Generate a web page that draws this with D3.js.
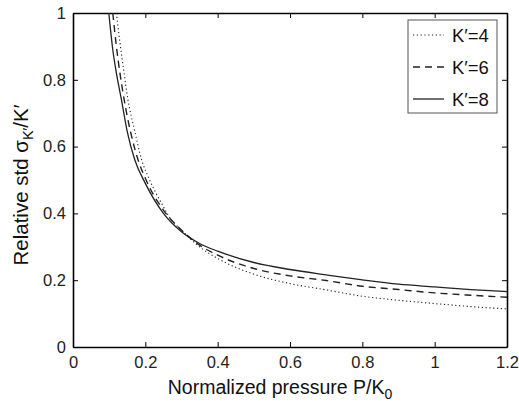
<!DOCTYPE html>
<html>
<head>
<meta charset="utf-8">
<script src="https://cdn.jsdelivr.net/npm/d3@7"></script>
<style>
  body { margin: 0; background: #fff; }
  svg { display: block; font-family: "Liberation Sans", Arial, sans-serif; }
</style>
</head>
<body>
<svg id="chart" width="519" height="403"></svg>
<script>
// P/K0 values and relative std for each K'
const p_k4 = [0.12, 0.13, 0.14, 0.152, 0.17, 0.19, 0.212, 0.25, 0.272, 0.3, 0.35, 0.4, 0.5, 0.6, 0.7, 0.8, 0.9, 1.0, 1.1, 1.2];
const v_k4 = [1.0, 0.91, 0.83, 0.74, 0.65, 0.56, 0.50, 0.42, 0.38, 0.35, 0.30, 0.265, 0.218, 0.19, 0.171, 0.152, 0.140, 0.130, 0.121, 0.114];

const p_k6 = [0.11, 0.12, 0.14, 0.16, 0.18, 0.2, 0.25, 0.3, 0.35, 0.4, 0.5, 0.6, 0.7, 0.8, 0.9, 1.0, 1.1, 1.2];
const v_k6 = [1.0, 0.90, 0.75, 0.64, 0.56, 0.505, 0.41, 0.35, 0.305, 0.275, 0.235, 0.213, 0.199, 0.182, 0.172, 0.162, 0.155, 0.149];

const p_k8 = [0.099, 0.11, 0.12, 0.134, 0.15, 0.171, 0.2, 0.25, 0.3, 0.35, 0.4, 0.5, 0.6, 0.7, 0.8, 0.9, 1.0, 1.1, 1.2];
const v_k8 = [1.0, 0.89, 0.82, 0.74, 0.645, 0.56, 0.49, 0.40, 0.345, 0.31, 0.287, 0.253, 0.232, 0.216, 0.201, 0.188, 0.180, 0.172, 0.166];

const x_ticks = [0, 0.2, 0.4, 0.6, 0.8, 1, 1.2];
const y_ticks = [0, 0.2, 0.4, 0.6, 0.8, 1];
const series_names = ["K\u2032=4", "K\u2032=6", "K\u2032=8"];

function render_chart()
{
    const svg = d3.select("#chart");
    const margin = {left: 73, right: 12, top: 13, bottom: 56};
    const width = 519, height = 403;

    const x = d3.scaleLinear().domain([0, 1.2]).range([margin.left, width - margin.right]);
    const y = d3.scaleLinear().domain([0, 1]).range([height - margin.bottom, margin.top]);

    svg.append("defs").append("clipPath").attr("id", "plot-clip")
      .append("rect")
        .attr("x", x(0)).attr("y", y(1))
        .attr("width", x(1.2) - x(0)).attr("height", y(0) - y(1));

    // axes with inward ticks on all four sides
    const fmt = d => String(d);
    const ax_bottom = svg.append("g").attr("transform", `translate(0,${y(0)})`)
      .call(d3.axisBottom(x).tickValues(x_ticks).tickSizeInner(-5).tickSizeOuter(0).tickPadding(9).tickFormat(fmt));
    const ax_left = svg.append("g").attr("transform", `translate(${x(0)},0)`)
      .call(d3.axisLeft(y).tickValues(y_ticks).tickSizeInner(-5).tickSizeOuter(0).tickPadding(7).tickFormat(fmt));
    const ax_top = svg.append("g").attr("transform", `translate(0,${y(1)})`)
      .call(d3.axisTop(x).tickValues(x_ticks).tickSizeInner(-5).tickSizeOuter(0).tickFormat(""));
    const ax_right = svg.append("g").attr("transform", `translate(${x(1.2)},0)`)
      .call(d3.axisRight(y).tickValues(y_ticks).tickSizeInner(-5).tickSizeOuter(0).tickFormat(""));

    for (const g of [ax_bottom, ax_left, ax_top, ax_right])
    {
        g.select(".domain").attr("stroke", "#000").attr("stroke-width", 1.6);
        g.selectAll(".tick line").attr("stroke", "#000").attr("stroke-width", 1);
        g.selectAll("text").attr("font-size", 16.5).attr("fill", "#222")
          .attr("font-family", "'Liberation Sans', Arial, sans-serif");
    }

    const line = d3.line()
      .x(d => x(d[0]))
      .y(d => y(d[1]))
      .curve(d3.curveMonotoneX);

    const series = [
      {p: p_k4, v: v_k4, dash: "1.2,2.6", width: 1.1},
      {p: p_k6, v: v_k6, dash: "7,5", width: 1.4},
      {p: p_k8, v: v_k8, dash: null, width: 1.3}
    ];

    svg.append("g").attr("clip-path", "url(#plot-clip)")
      .selectAll("path")
      .data(series)
      .join("path")
        .attr("fill", "none")
        .attr("stroke", "#222")
        .attr("stroke-width", d => d.width)
        .attr("stroke-dasharray", d => d.dash)
        .attr("d", d => line(d.p.map((p, i) => [p, d.v[i]])));

    // legend
    const legend = svg.append("g");
    legend.append("rect")
      .attr("x", 408).attr("y", 20).attr("width", 89).attr("height", 93)
      .attr("fill", "#fff").attr("stroke", "#555").attr("stroke-width", 1);
    series_names.forEach((name, i) => {
        const ly = 35 + i * 32;
        legend.append("line")
          .attr("x1", 413).attr("x2", 444).attr("y1", ly).attr("y2", ly)
          .attr("stroke", "#222")
          .attr("stroke-width", series[i].width)
          .attr("stroke-dasharray", series[i].dash);
        legend.append("text")
          .attr("x", 452).attr("y", ly + 6.5)
          .attr("font-size", 18.5).attr("fill", "#111")
          .text(name);
    });

    // axis titles
    const xt = svg.append("text")
      .attr("x", x(0.6) - 10).attr("y", 394)
      .attr("text-anchor", "middle").attr("font-size", 19.5).attr("fill", "#111");
    xt.append("tspan").text("Normalized pressure P/K");
    xt.append("tspan").attr("font-size", 14).attr("dy", 5).text("0");

    const yt = svg.append("text")
      .attr("transform", "translate(28,185) rotate(-90)")
      .attr("text-anchor", "middle").attr("font-size", 20.5).attr("fill", "#111");
    yt.append("tspan").text("Relative std \u03c3");
    yt.append("tspan").attr("font-size", 14.5).attr("dy", 5).text("K\u2032");
    yt.append("tspan").attr("dy", -5).text("/K\u2032");
}

render_chart();
</script>
</body>
</html>
